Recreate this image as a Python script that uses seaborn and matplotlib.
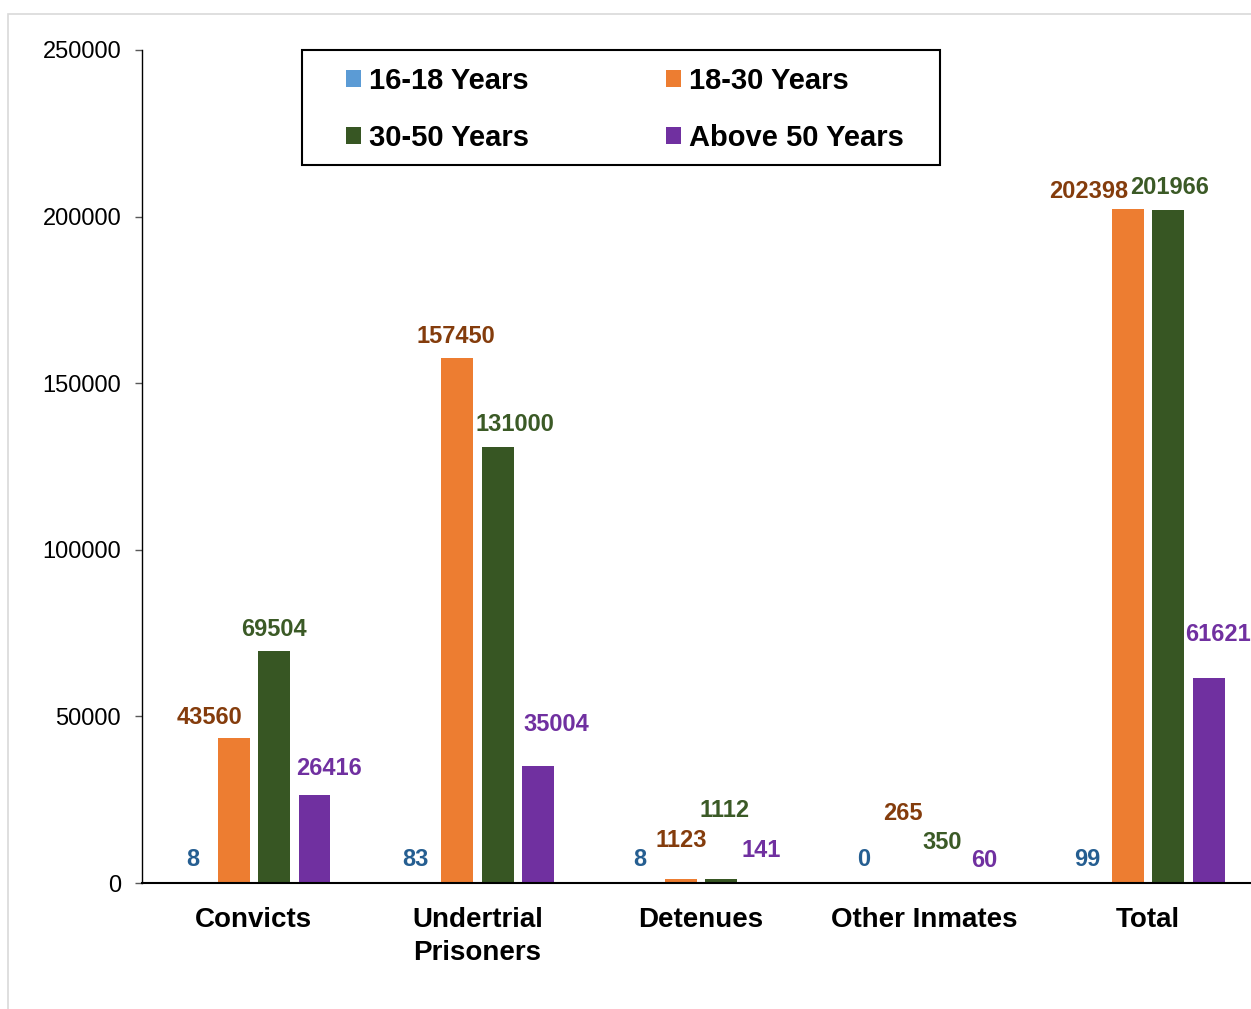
import matplotlib
matplotlib.use("Agg")
import matplotlib.pyplot as plt
from matplotlib.patches import Rectangle
import pandas as pd
import seaborn as sns

# Prison population by category and age group
categories = ["Convicts", "Undertrial\nPrisoners", "Detenues", "Other Inmates", "Total"]
age_groups = ["16-18 Years", "18-30 Years", "30-50 Years", "Above 50 Years"]
age_16_18 = [8, 83, 8, 0, 99]
age_18_30 = [43560, 157450, 1123, 265, 202398]
age_30_50 = [69504, 131000, 1112, 350, 201966]
age_above_50 = [26416, 35004, 141, 60, 61621]
y_ticks = [0, 50000, 100000, 150000, 200000, 250000]

series = [age_16_18, age_18_30, age_30_50, age_above_50]

bar_colors = ["#5B9BD5", "#ED7D31", "#375623", "#7030A0"]
label_colors = ["#255E91", "#843C0C", "#3B5A26", "#7030A0"]

# Value label offsets from the top of each bar, in pixels (dx, dy)
label_offsets = [
    [(0, 23), (-1, 23), (0, 23), (0, 23), (0, 23)],
    [(-24, 20), (-1, 22), (0, 39), (-1, 69), (-39, 17)],
    [(0, 22), (17, 22), (3, 69), (-3, 39), (1, 23)],
    [(14, 26), (18, 42), (-1, 32), (-1, 22), (9, 43)],
]

df = pd.DataFrame({
    "category": categories * len(age_groups),
    "age": [g for g in age_groups for _ in categories],
    "value": [v for s in series for v in s],
})

sns.set_style("white")
plt.rcParams["font.family"] = ["Liberation Sans", "DejaVu Sans"]
plt.rcParams["text.color"] = "black"

W, H = 1251, 1009
fig = plt.figure(figsize=(W / 100, H / 100), dpi=100)
ax = fig.add_axes([142 / W, (H - 883) / H, (1260 - 142) / W, 833 / H])

sns.barplot(data=df, x="category", y="value", hue="age",
            order=categories, hue_order=age_groups,
            palette=dict(zip(age_groups, bar_colors)), saturation=1,
            width=0.724, gap=0.21, errorbar=None, legend=False,
            linewidth=0, ax=ax)

ax.set_xlim(-0.5, 4.5)
ax.set_ylim(0, 250000)
ax.set_yticks(y_ticks)
ax.set_yticklabels([str(t) for t in y_ticks])
ax.set_xlabel("")
ax.set_ylabel("")

for side in ("top", "right"):
    ax.spines[side].set_visible(False)
ax.spines["left"].set_color("black")
ax.spines["left"].set_linewidth(1.0)
ax.spines["bottom"].set_color("black")
ax.spines["bottom"].set_linewidth(1.5)

ax.tick_params(axis="y", labelsize=17, length=5, width=1, color="#595959",
               pad=10, left=True, labelcolor="black")
ax.tick_params(axis="x", length=0, pad=17, labelcolor="black")
for lbl in ax.get_xticklabels():
    lbl.set_fontsize(20)
    lbl.set_fontweight("bold")
    lbl.set_linespacing(1.35)

# Value labels
for s, cont in enumerate(ax.containers):
    for c, bar in enumerate(cont):
        x = bar.get_x() + bar.get_width() / 2
        h = bar.get_height()
        dx, dy = label_offsets[s][c]
        ax.annotate(f"{h:.0f}", (x, h), xytext=(dx, dy),
                    textcoords="offset pixels", ha="center", va="center",
                    fontsize=17, fontweight="bold", color=label_colors[s],
                    annotation_clip=False)

# Legend laid out row by row (matplotlib fills columns first)
handles = [cont.patches[0] for cont in ax.containers]
order = [0, 2, 1, 3]
leg = fig.legend([handles[i] for i in order], [age_groups[i] for i in order],
                 ncol=2, frameon=False,
                 loc="upper left", bbox_to_anchor=(346 / W, 1 - 67 / H),
                 borderpad=0, borderaxespad=0,
                 prop={"size": 21, "weight": "bold"},
                 handlelength=0.51, handleheight=0.51, handletextpad=0.27,
                 columnspacing=4.7, labelspacing=1.0)
for t in leg.get_texts():
    t.set_color("black")
fig.patches.append(Rectangle((302 / W, 1 - 165 / H), (940 - 302) / W, 115 / H,
                             transform=fig.transFigure, fill=False,
                             edgecolor="black", linewidth=1.5, zorder=5))

# Outer chart border
fig.patches.append(Rectangle((7.5 / W, -0.02), 1.1, 1 - 14 / H + 0.02,
                             transform=fig.transFigure, fill=False,
                             edgecolor="#D9D9D9", linewidth=1.2, zorder=0))

fig.savefig("out.png", dpi=100)
